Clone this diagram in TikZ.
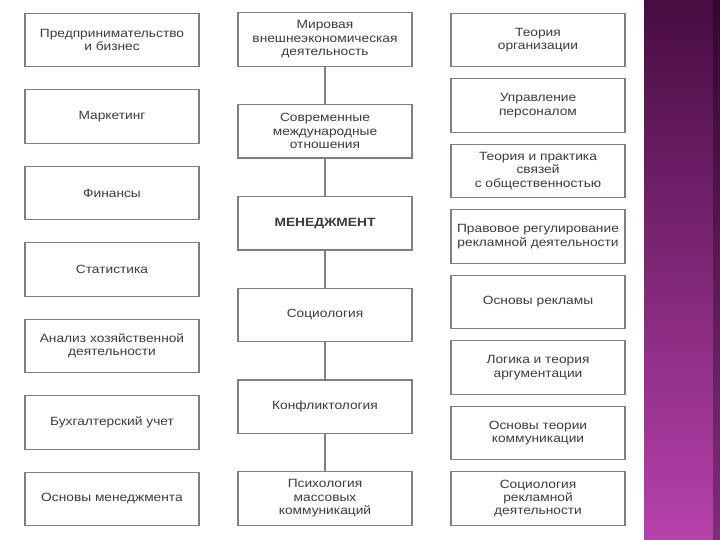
\documentclass[tikz,border=0pt]{standalone}
\usepackage{fontspec}
\setmainfont{Liberation Sans}[FakeStretch=1.15]
\usepackage{xcolor}
\usepackage{tikz}

\definecolor{boxgray}{RGB}{128,128,128}
\definecolor{textgray}{RGB}{60,60,60}
\definecolor{plumtop}{RGB}{72,12,66}
\definecolor{plumbot}{RGB}{182,66,172}

\tikzset{
  subject/.style={draw=boxgray, line width=1.3bp, fill=white,
    minimum width=174bp, minimum height=53.5bp, inner sep=0pt,
    align=center, text=textgray, font=\fontsize{12}{13.5}\selectfont},
  link/.style={draw=boxgray, line width=1.3bp}
}

\begin{document}
\begin{tikzpicture}[x=1bp, y=-1bp]
\useasboundingbox (0,0) rectangle (720,540);

% Side strip
\shade[top color=plumtop, bottom color=plumbot] (644,0) rectangle (720,540);
\shade[left color=plumbot!0!black, right color=black, opacity=0.3] (713,0) rectangle (720,540);

% Left column
\foreach \i/\v in {0/{Предпринимательство\\и бизнес},1/Маркетинг,2/Финансы,
    3/Статистика,4/{Анализ хозяйственной\\деятельности},
    5/Бухгалтерский учет,6/Основы менеджмента} {
  \node[subject] (L\i) at (112,40+76.5*\i) {\v};
}

% Middle column
\foreach \i/\v in {0/{Мировая\\внешнеэкономическая\\деятельность},
    1/{Современные\\международные\\отношения},2/{\textbf{МЕНЕДЖМЕНТ}},
    3/Социология,4/Конфликтология,5/{Психология\\массовых\\коммуникаций}} {
  \node[subject] (M\i) at (325,39.5+91.8*\i) {\v};
}
\foreach \i [evaluate=\i as \j using int(\i+1)] in {0,...,4} {
  \draw[link] (M\i) -- (M\j);
}

% Right column
\foreach \i/\v in {0/{Теория\\организации},1/{Управление\\персоналом},
    2/{Теория и практика\\связей\\с общественностью},
    3/{Правовое регулирование\\рекламной деятельности},4/Основы рекламы,
    5/{Логика и теория\\аргументации},6/{Основы теории\\коммуникации},
    7/{Социология\\рекламной\\деятельности}} {
  \node[subject] (R\i) at (538,40+65.5*\i) {\v};
}
\end{tikzpicture}
\end{document}
